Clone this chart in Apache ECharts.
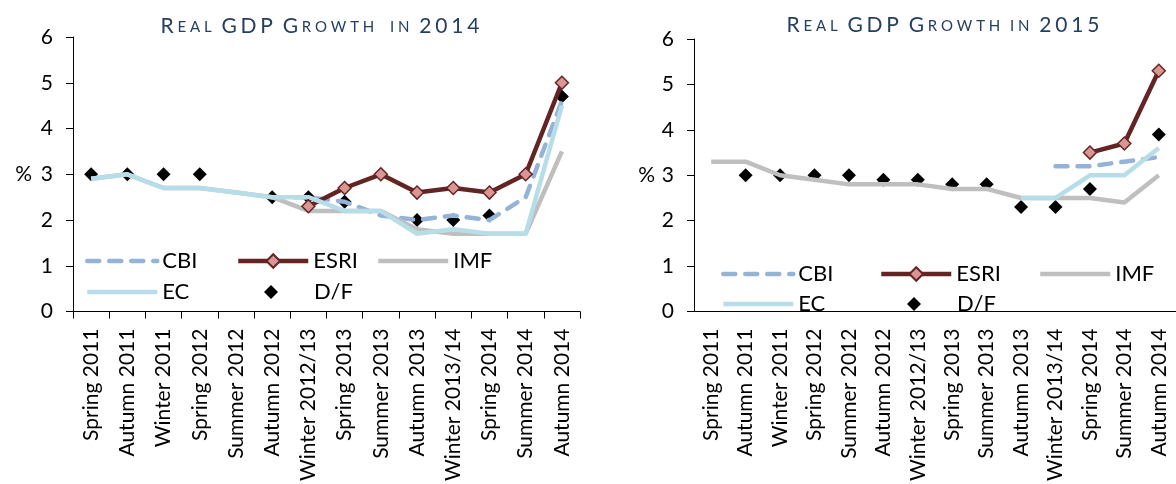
<!DOCTYPE html>
<html>
<head>
<meta charset="utf-8">
<script src="https://cdn.jsdelivr.net/npm/echarts@6/dist/echarts.min.js"></script>
<style>
html, body { margin: 0; padding: 0; background: #fff; }
#main { width: 1176px; height: 484px; }
</style>
</head>
<body>
<div id="main"></div>
<script>
var categories = ['Spring 2011', 'Autumn 2011', 'Winter 2011', 'Spring 2012', 'Summer 2012', 'Autumn 2012',
    'Winter 2012/13', 'Spring 2013', 'Summer 2013', 'Autumn 2013', 'Winter 2013/14', 'Spring 2014',
    'Summer 2014', 'Autumn 2014'];

// forecasts for 2014
var cbi2014  = [null, null, null, null, null, 2.5, 2.5, 2.4, 2.1, 2.0, 2.1, 2.0, 2.5, 4.6];
var esri2014 = [null, null, null, null, null, null, 2.3, 2.7, 3.0, 2.6, 2.7, 2.6, 3.0, 5.0];
var imf2014  = [2.9, 3.0, 2.7, 2.7, 2.6, 2.5, 2.2, 2.2, 2.2, 1.8, 1.7, 1.7, 1.7, 3.5];
var ec2014   = [2.9, 3.0, 2.7, 2.7, 2.6, 2.5, 2.5, 2.2, 2.2, 1.7, 1.8, 1.7, 1.7, 4.5];
var df2014   = [3.0, 3.0, 3.0, 3.0, null, 2.5, 2.5, 2.4, null, 2.0, 2.0, 2.1, null, 4.7];

// forecasts for 2015
var cbi2015  = [null, null, null, null, null, null, null, null, null, null, 3.2, 3.2, 3.3, 3.4];
var esri2015 = [null, null, null, null, null, null, null, null, null, null, null, 3.5, 3.7, 5.3];
var imf2015  = [3.3, 3.3, 3.0, 2.9, 2.8, 2.8, 2.8, 2.7, 2.7, 2.5, 2.5, 2.5, 2.4, 3.0];
var ec2015   = [null, null, null, null, null, null, null, null, null, 2.5, 2.5, 3.0, 3.0, 3.6];
var df2015   = [null, 3.0, 3.0, 3.0, 3.0, 2.9, 2.9, 2.8, 2.8, 2.3, 2.3, 2.7, null, 3.9];

var FONT = 'Lato';
var NAVY = '#243F60';

// small caps title: capitals big, lower case drawn as small capitals
function smallCaps(txt) {
    return txt.split('').map(function (ch) {
        if (ch === ' ') return '{sp| }';
        if (ch >= 'a' && ch <= 'z') return '{s|' + ch.toUpperCase() + '}';
        return '{b|' + ch + '}';
    }).join('');
}

var titleRich = {
    b: { fontFamily: FONT, fontSize: 21, fontWeight: 'normal', color: NAVY, padding: [0, 1.9, 0, 1.9], lineHeight: 25, verticalAlign: 'bottom' },
    s: { fontFamily: FONT, fontSize: 15, fontWeight: 'normal', color: NAVY, padding: [0, 1.9, 2, 1.9], lineHeight: 18, verticalAlign: 'bottom' },
    sp: { fontFamily: FONT, fontSize: 15, fontWeight: 'normal', width: 6 }
};

// one legend per entry so the three columns line up like the original
function legendItem(name, left, top, opts) {
    opts = opts || {};
    return {
        data: [name], left: left, top: top, padding: 0,
        itemWidth: opts.w || 70, itemHeight: opts.h || 17,
        selectedMode: false,
        itemStyle: opts.noSymbol ? { opacity: 0 } : { opacity: 1 },
        lineStyle: { width: 4.5 },
        textStyle: { fontFamily: FONT, fontSize: 22, color: '#000', padding: [0, 0, 0, opts.pad || 0] }
    };
}

function legendsFor(x1, x2, x3, row1, row2) {
    return [
        legendItem('CBI', x1, row1, { noSymbol: true }),
        legendItem('ESRI', x2, row1),
        legendItem('IMF', x3, row1, { noSymbol: true }),
        legendItem('EC', x1, row2, { noSymbol: true }),
        legendItem('D/F', x2 + 28, row2, { w: 14, h: 14, pad: 31 })
    ];
}

function xAxisFor(idx, ticks) {
    return {
        type: 'category', gridIndex: idx, data: categories,
        axisLine: { lineStyle: { color: '#000', width: 1 } },
        axisTick: { show: ticks, length: 7, lineStyle: { color: '#000' } },
        axisLabel: { rotate: 90, interval: 0, margin: 17, fontFamily: FONT, fontSize: 21, color: '#000' }
    };
}

function yAxisFor(idx, gap) {
    return {
        type: 'value', gridIndex: idx, min: 0, max: 6, interval: 1,
        name: '%', nameLocation: 'middle', nameRotate: 0, nameGap: gap,
        nameTextStyle: { fontFamily: FONT, fontSize: 21, color: '#000' },
        splitLine: { show: false },
        axisLine: { show: true, lineStyle: { color: '#000', width: 1 } },
        axisTick: { show: true, length: 7, lineStyle: { color: '#000' } },
        axisLabel: { margin: 20, fontFamily: FONT, fontSize: 21, color: '#000' }
    };
}

function seriesFor(idx, cbi, esri, imf, ec, df) {
    return [
        { name: 'CBI', type: 'line', xAxisIndex: idx, yAxisIndex: idx, data: cbi, symbol: 'none',
          lineStyle: { color: '#95B3D7', width: 4.5, type: [12, 10], cap: 'round' }, itemStyle: { color: '#95B3D7' } },
        { name: 'ESRI', type: 'line', xAxisIndex: idx, yAxisIndex: idx, data: esri, symbol: 'diamond', symbolSize: 13,
          lineStyle: { color: '#632523', width: 4.5 },
          itemStyle: { color: '#D99694', borderColor: '#632523', borderWidth: 1.5 } },
        { name: 'IMF', type: 'line', xAxisIndex: idx, yAxisIndex: idx, data: imf, symbol: 'none',
          lineStyle: { color: '#BFBFBF', width: 4.5 }, itemStyle: { color: '#BFBFBF' } },
        { name: 'EC', type: 'line', xAxisIndex: idx, yAxisIndex: idx, data: ec, symbol: 'none',
          lineStyle: { color: '#B7DEE8', width: 4.5 }, itemStyle: { color: '#B7DEE8' } },
        { name: 'D/F', type: 'scatter', xAxisIndex: idx, yAxisIndex: idx, data: df, symbol: 'diamond', symbolSize: 14,
          itemStyle: { color: '#000', opacity: 1 } }
    ];
}

var chart = echarts.init(document.getElementById('main'));
chart.setOption({
    animation: false,
    backgroundColor: '#fff',
    title: [
        { text: smallCaps('Real GDP Growth  in 2014'), left: 315, top: 7, textAlign: 'center', textStyle: { rich: titleRich } },
        { text: smallCaps('Real GDP Growth in 2015'), left: 938, top: 6, textAlign: 'center', textStyle: { rich: titleRich } }
    ],
    legend: legendsFor(85, 236, 376, 250, 281).concat(legendsFor(721, 879, 1038, 263, 293)),
    grid: [
        { left: 73, right: 596, top: 37, bottom: 171 },
        { left: 694, right: -5, top: 39, bottom: 162 }
    ],
    xAxis: [xAxisFor(0, true), xAxisFor(1, false)],
    yAxis: [yAxisFor(0, 41), yAxisFor(1, 39)],
    series: seriesFor(0, cbi2014, esri2014, imf2014, ec2014, df2014)
        .concat(seriesFor(1, cbi2015, esri2015, imf2015, ec2015, df2015))
});
</script>
</body>
</html>
